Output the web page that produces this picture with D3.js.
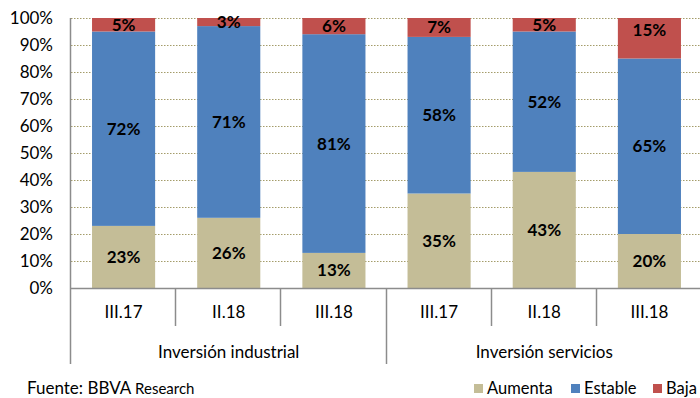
<!DOCTYPE html>
<html>
<head>
<meta charset="utf-8">
<script src="https://cdn.jsdelivr.net/npm/d3@7"></script>
<style>
  body { margin: 0; background: #fff; }
  text { font-family: Lato, "Open Sans", sans-serif; fill: #000; }
  .val { font-weight: bold; font-size: 17px; }
</style>
</head>
<body>
<div id="chart"></div>
<script>
var categories = ["III.17", "II.18", "III.18", "III.17", "II.18", "III.18"];
var groups = ["Inversión industrial", "Inversión servicios"];
var aumenta = [23, 26, 13, 35, 43, 20];
var estable = [72, 71, 81, 58, 52, 65];
var baja = [5, 3, 6, 7, 5, 15];
var seriesNames = ["Aumenta", "Estable", "Baja"];
var colors = ["#c4bd97", "#4f81bd", "#c0504d"];
var yTicks = [0, 10, 20, 30, 40, 50, 60, 70, 80, 90, 100];

var width = 700, height = 398;
var plotLeft = 71, plotTop = 18, plotRight = 702, plotBottom = 288;

var svg = d3.select("#chart").append("svg")
    .attr("width", width)
    .attr("height", height);

var x = d3.scaleBand()
  .domain(d3.range(categories.length))
  .range([plotLeft, plotRight])
  .paddingInner(0.4)
  .paddingOuter(0.2);

var y = d3.scaleLinear()
  .domain([0, 100])
  .range([plotBottom, plotTop]);

// gridlines
svg.selectAll(".grid")
  .data(yTicks.filter(function (d) { return d > 0; }))
  .enter().append("line")
  .attr("x1", plotLeft).attr("x2", width)
  .attr("y1", function (d) { return y(d) + 0.5; })
  .attr("y2", function (d) { return y(d) + 0.5; })
  .style("stroke", "#a49c6a")
  .style("stroke-width", 1)
  .style("stroke-dasharray", "1.5,1.5");

// y tick labels
svg.selectAll(".ylab")
  .data(yTicks)
  .enter().append("text")
  .attr("x", 53)
  .attr("y", function (d) { return y(d) + 6; })
  .attr("text-anchor", "end")
  .style("font-size", "17px")
  .text(function (d) { return d + "%"; });

// stacked data
var rows = categories.map(function (c, i) {
  return { i: i, Aumenta: aumenta[i], Estable: estable[i], Baja: baja[i] };
});
var stack = d3.stack().keys(seriesNames)(rows);

var layer = svg.selectAll(".layer")
  .data(stack)
  .enter().append("g")
  .style("fill", function (d, i) { return colors[i]; });

layer.selectAll("rect")
  .data(function (d) { return d; })
  .enter().append("rect")
  .attr("x", function (d) { return x(d.data.i); })
  .attr("width", x.bandwidth())
  .attr("y", function (d) { return y(d[1]); })
  .attr("height", function (d) { return y(d[0]) - y(d[1]); });

// value labels
stack.forEach(function (s, si) {
  svg.selectAll(".val" + si)
    .data(s)
    .enter().append("text")
    .attr("class", "val")
    .attr("text-anchor", "middle")
    .attr("x", function (d) { return x(d.data.i) + x.bandwidth() / 2; })
    .attr("y", function (d) {
      var c = (y(d[0]) + y(d[1])) / 2;
      if (si === 2) c = Math.min(c, y(d[1]) + 12);
      return c + 6;
    })
    .text(function (d) { return (d[1] - d[0]) + "%"; });
});

// axes lines
var axisColor = "#8c8c8c";
svg.append("line")
  .attr("x1", plotLeft - 0.5).attr("x2", plotLeft - 0.5)
  .attr("y1", plotTop).attr("y2", 364)
  .style("stroke", axisColor).style("stroke-width", 1.5);
svg.append("line")
  .attr("x1", plotLeft).attr("x2", width)
  .attr("y1", plotBottom + 0.5).attr("y2", plotBottom + 0.5)
  .style("stroke", axisColor).style("stroke-width", 1.5);

// category separators
var bounds = d3.range(1, categories.length + 1).map(function (i) {
  return plotLeft + i * (plotRight - plotLeft) / categories.length;
});
svg.selectAll(".sep")
  .data(bounds)
  .enter().append("line")
  .attr("x1", function (d) { return Math.round(d) - 0.5; })
  .attr("x2", function (d) { return Math.round(d) - 0.5; })
  .attr("y1", plotBottom)
  .attr("y2", function (d, i) { return i === 2 ? 364 : 326; })
  .style("stroke", axisColor).style("stroke-width", 1.5);

// category labels
svg.selectAll(".cat")
  .data(categories)
  .enter().append("text")
  .attr("x", function (d, i) { return x(i) + x.bandwidth() / 2; })
  .attr("y", 318)
  .attr("text-anchor", "middle")
  .style("font-size", "17px")
  .text(function (d) { return d; });

// group labels
svg.selectAll(".grp")
  .data(groups)
  .enter().append("text")
  .attr("x", function (d, i) { return (x(i * 3) + x(i * 3 + 2) + x.bandwidth()) / 2; })
  .attr("y", 358)
  .attr("text-anchor", "middle")
  .style("font-size", "17px")
  .text(function (d) { return d; });

// source
var src = svg.append("text").attr("x", 27).attr("y", 394).style("font-size", "17px");
src.append("tspan").text("Fuente: BBVA ");
src.append("tspan").style("font-size", "15px").text("Research");

// legend
var legendX = [474, 571, 653];
var leg = svg.selectAll(".leg")
  .data(seriesNames)
  .enter().append("g")
  .attr("transform", function (d, i) { return "translate(" + legendX[i] + ",0)"; });
leg.append("rect")
  .attr("x", 0).attr("y", 384).attr("width", 9).attr("height", 9)
  .style("fill", function (d, i) { return colors[i]; });
leg.append("text")
  .attr("x", 13).attr("y", 394)
  .style("font-size", "16.5px")
  .text(function (d) { return d; });
</script>
</body>
</html>
